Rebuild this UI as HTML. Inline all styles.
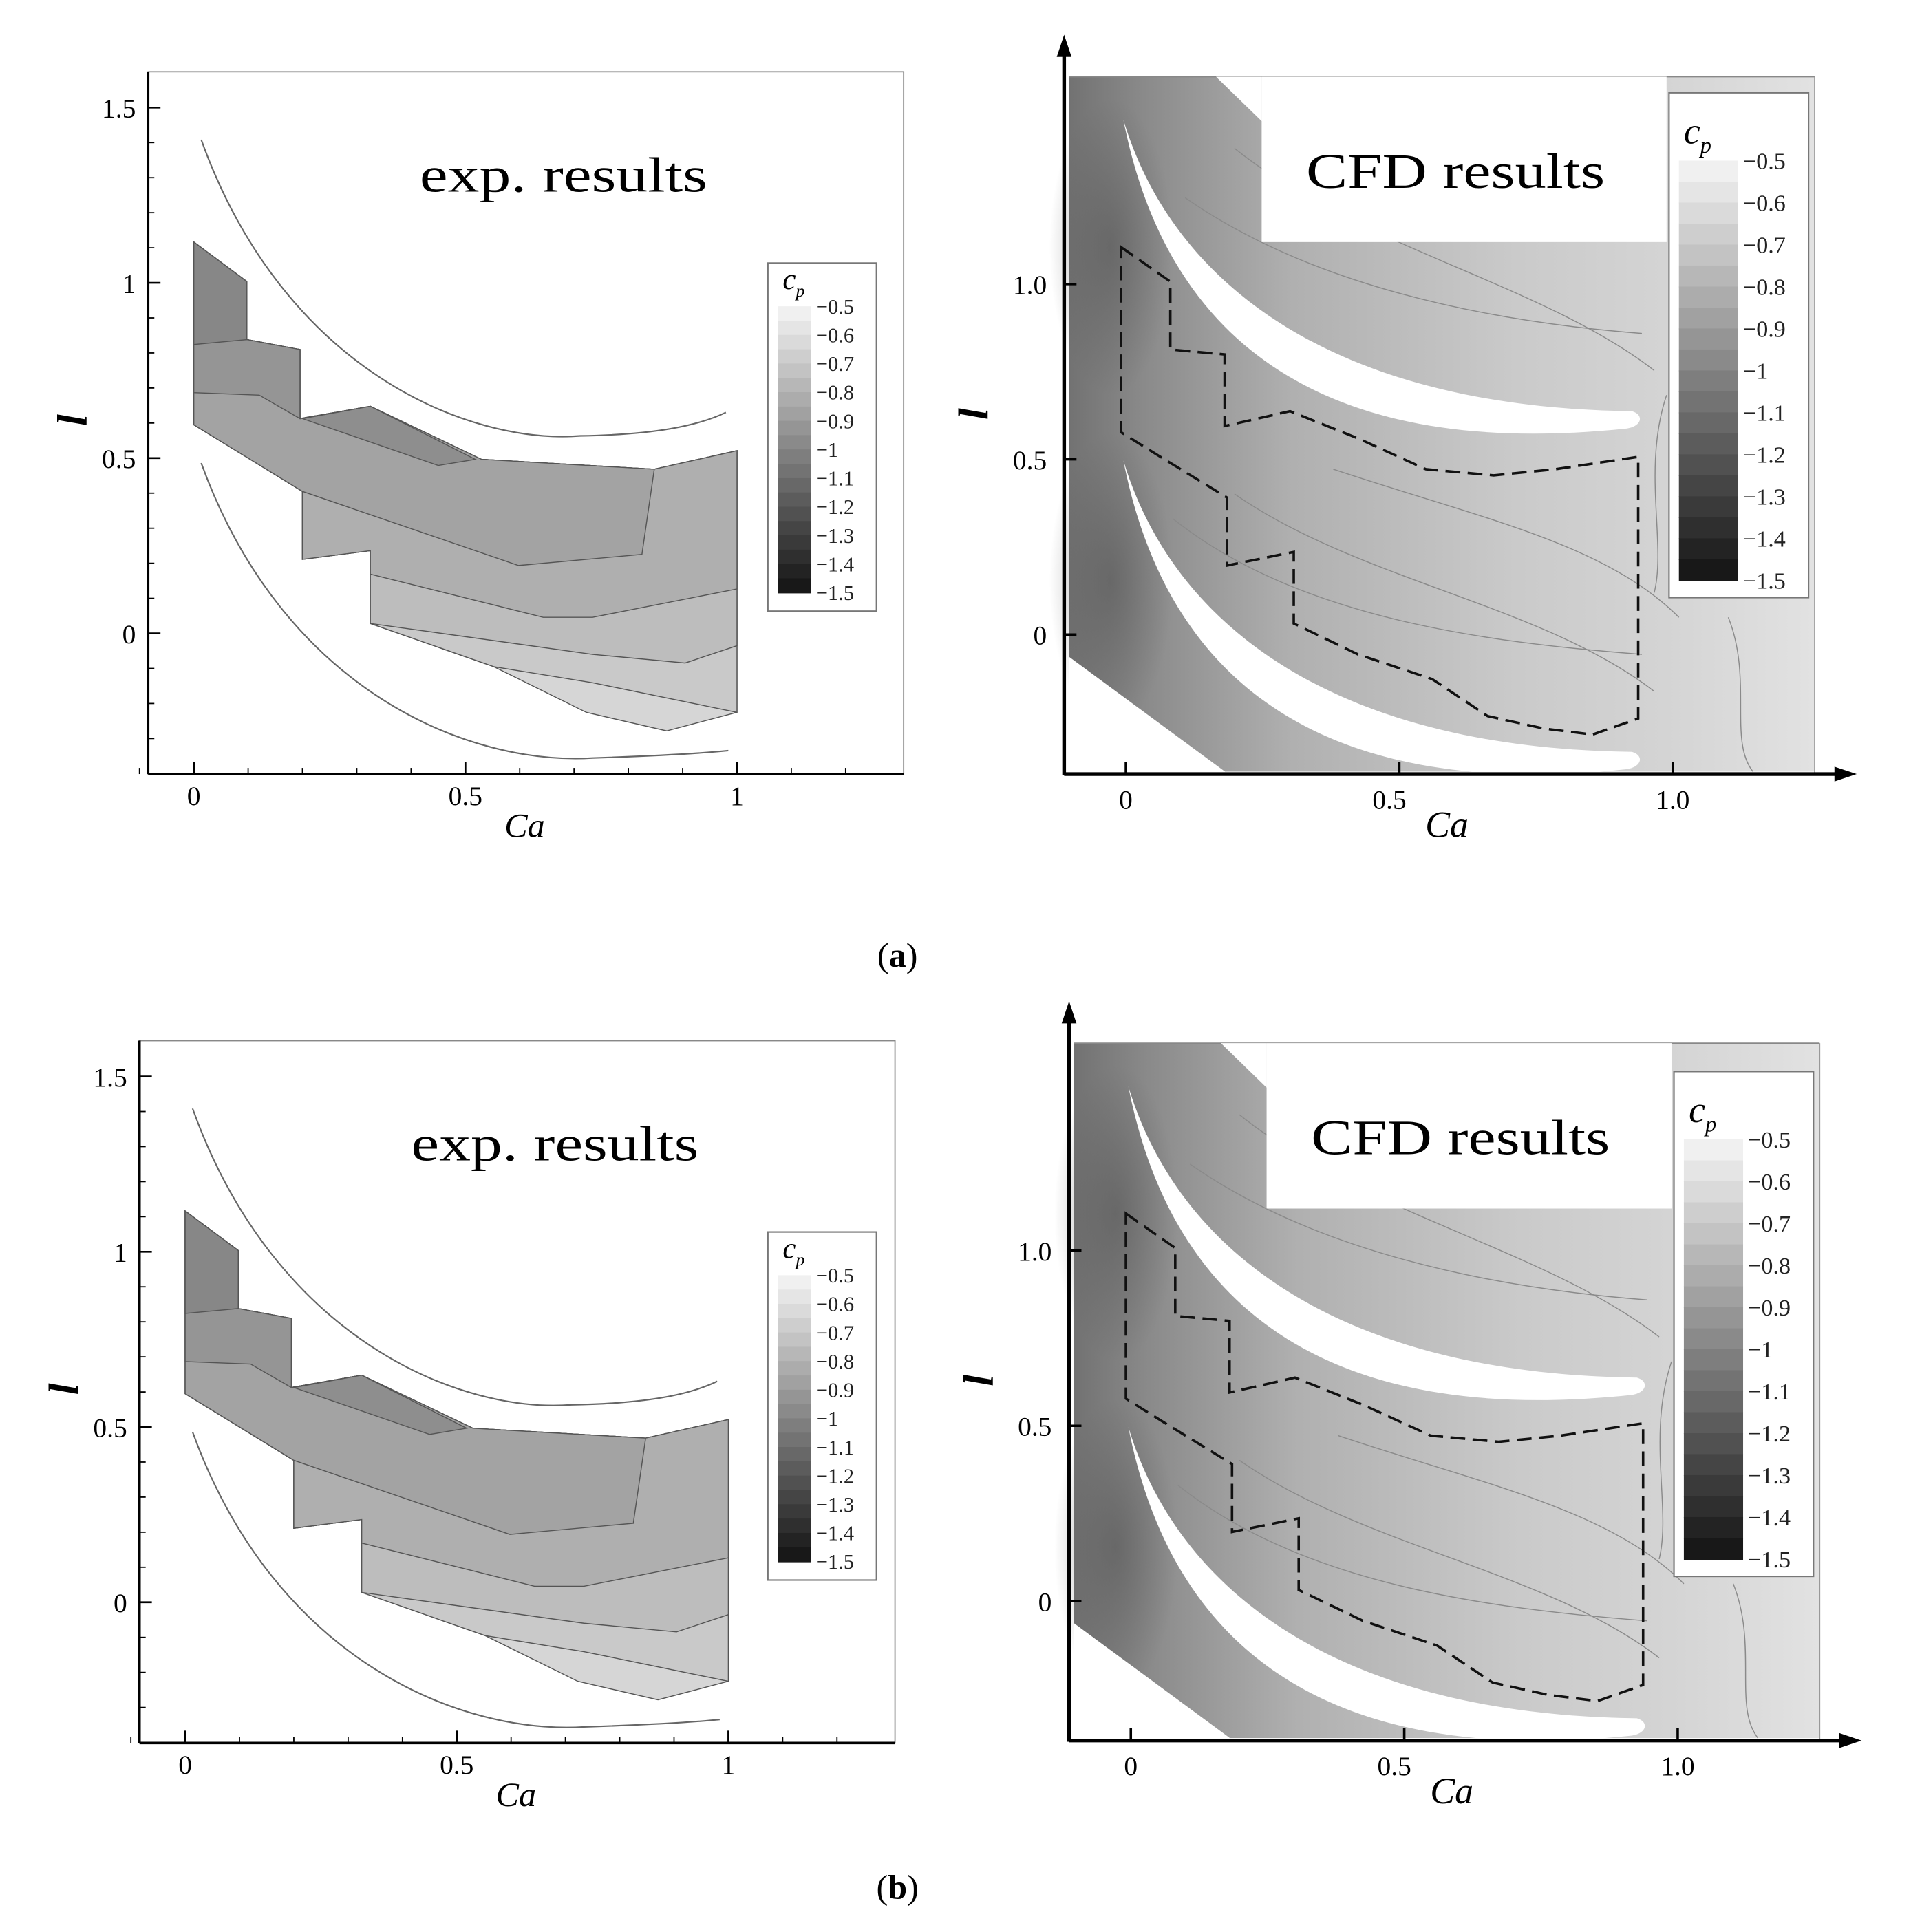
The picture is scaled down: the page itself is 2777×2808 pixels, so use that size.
<!DOCTYPE html>
<html><head><meta charset="utf-8"><style>
html,body{margin:0;padding:0;background:#fff}
svg{display:block}
</style></head><body>
<svg id="fig" width="2777" height="2808" viewBox="0 0 1548 1565" xmlns="http://www.w3.org/2000/svg" font-family="Liberation Serif, serif">
<defs>
<linearGradient id="cfdgrad" x1="0" y1="0" x2="1" y2="0">
<stop offset="0" stop-color="#727272"/><stop offset="0.1" stop-color="#8a8a8a"/><stop offset="0.3" stop-color="#b0b0b0"/><stop offset="0.6" stop-color="#cacaca"/><stop offset="0.8" stop-color="#d4d4d4"/><stop offset="1" stop-color="#e2e2e2"/>
</linearGradient>
<radialGradient id="dark" cx="0.5" cy="0.5" r="0.5">
<stop offset="0" stop-color="#555" stop-opacity="0.55"/><stop offset="1" stop-color="#555" stop-opacity="0"/>
</radialGradient>
</defs>
<g id="root"></g>
</svg>
<script>
const levels = [-0.5,-0.6,-0.7,-0.8,-0.9,-1,-1.1,-1.2,-1.3,-1.4,-1.5];
const expYTicks = [0,0.5,1,1.5];
const expXTicks = [0,0.5,1];
const cfdYTicks = [0,0.5,1.0];
const cfdXTicks = [0,0.5,1.0];
const NS='http://www.w3.org/2000/svg';
const root=document.getElementById('root');
function mk(tag,attrs,parent){const e=document.createElementNS(NS,tag);for(const k in attrs)e.setAttribute(k,attrs[k]);(parent||root).appendChild(e);return e;}
function txt(x,y,s,size,parent,extra){const t=mk('text',Object.assign({x:x,y:y,'font-size':size,'font-family':'Liberation Serif, serif'},extra||{}),parent);t.textContent=s;return t;}
function shade(v){const f=(v+1.5)/1.0;const c=Math.round(18+f*228);return `rgb(${c},${c},${c})`;}
function pts(a,dx,dy){return a.map(p=>(p[0]+dx)+','+(p[1]+dy)).join(' ');}

function legend(g,x,y,w,h,barX,barY,barW,barH,fs,titleSize){
  const box=mk('rect',{x:x,y:y,width:w,height:h,fill:'#fff',stroke:'#777','stroke-width':1.2},g);
  
  const tt=txt(barX+4,barY-14,'c',titleSize,g,{'font-style':'italic'});
  const sub=mk('tspan',{'font-size':titleSize*0.6,dy:titleSize*0.25},tt);sub.textContent='p';
  
  const n=20;
  for(let i=0;i<n;i++){
    const v=-0.5-(i+0.5)*0.05;
    const r=mk('rect',{x:barX,y:barY+i*barH/n,width:barW,height:barH/n+0.6,fill:shade(v)},g);
    
  }
  levels.forEach((v,i)=>{
    const yy=barY+i*barH/(levels.length-1);
    const t=txt(barX+barW+4,yy+fs*0.35,'\u2212'+String(Math.abs(v)),fs,g,{fill:'#222'});
    
  });
}

function expPanel(dx,dy){
  const g=mk('g',{});
  const x0=157+dx, xs=440, y0=513+dy, ys=284;
  const X=v=>x0+v*xs, Y=v=>y0-v*ys;
  const frame=mk('rect',{x:120+dx,y:58+dy,width:612,height:569,fill:'none',stroke:'#888','stroke-width':1},g);
  
  mk('line',{x1:120+dx,y1:58+dy,x2:120+dx,y2:627+dy,stroke:'#000','stroke-width':2},g);
  mk('line',{x1:120+dx,y1:627+dy,x2:732+dx,y2:627+dy,stroke:'#000','stroke-width':2},g);
  const T=[[157,196],[200,228],[200,275],[243,283],[243,339],[300,329],[390,372],[530,380],[597,365]];
  const LE=[[300,505],[300,446],[245,453],[245,398],[157,344]];
  const st={stroke:'#555','stroke-width':0.8};
  const full=T.concat([[597,577],[540,592],[475,577],[400,540]],LE);
  const r=mk('polygon',Object.assign({points:pts(full,dx,dy),fill:'#d6d6d6'},st),g);
  
  const bands=[
    [T.concat([[597,577],[480,553],[400,540]],LE),'#c9c9c9'],
    [T.concat([[597,523],[555,537],[480,530]],LE),'#bdbdbd'],
    [T.concat([[597,477],[480,500],[440,500],[300,465],[300,446],[245,453],[245,398],[157,344]]),'#afafaf'],
    [T.slice(0,8).concat([[520,449],[420,458],[245,398],[157,344]]),'#a3a3a3'],
    [[[157,196],[200,228],[200,275],[243,283],[243,339],[210,320],[157,318]],'#959595'],
    [[[245,339],[300,329],[385,372],[355,377]],'#8e8e8e'],
    [[[157,196],[200,228],[200,275],[157,279]],'#878787']
  ];
  bands.forEach(b=>{const p=mk('polygon',Object.assign({points:pts(b[0],dx,dy),fill:b[1]},st),g);});
  const c1=mk('path',{d:`M${163+dx},${113+dy} C${230+dx},${300+dy} ${380+dx},${360+dy} ${470+dx},${353+dy} C${530+dx},${352+dy} ${565+dx},${345+dy} ${588+dx},${334+dy}`,fill:'none',stroke:'#666','stroke-width':1.2},g);
  
  const c2=mk('path',{d:`M${163+dx},${375+dy} C${230+dx},${560+dy} ${380+dx},${620+dy} ${480+dx},${614+dy} C${540+dx},${612+dy} ${570+dx},${610+dy} ${590+dx},${608+dy}`,fill:'none',stroke:'#666','stroke-width':1.2},g);
  
  expYTicks.forEach(v=>{mk('line',{x1:120+dx,y1:Y(v),x2:130+dx,y2:Y(v),stroke:'#000','stroke-width':1.5},g);
    const t=txt(110+dx,Y(v)+8,String(v),22,g,{'text-anchor':'end'});});
  for(let v=-0.3;v<1.6;v+=0.1){mk('line',{x1:120+dx,y1:Y(v),x2:125+dx,y2:Y(v),stroke:'#000'},g);}
  expXTicks.forEach(v=>{mk('line',{x1:X(v),y1:627+dy,x2:X(v),y2:617+dy,stroke:'#000','stroke-width':1.5},g);
    const t=txt(X(v),652+dy,String(v),22,g,{'text-anchor':'middle'});});
  for(let v=-0.1;v<1.3;v+=0.1){mk('line',{x1:X(v),y1:627+dy,x2:X(v),y2:622+dy,stroke:'#000'},g);}
  const xl=txt(425+dx,678+dy,'Ca',28,g,{'font-style':'italic','text-anchor':'middle'});
  const yl=txt(0,0,'l',34,g,{'font-style':'italic','font-weight':'bold',transform:`translate(${70+dx},${345+dy}) rotate(-90)`});
  const tl=txt(340+dx,155+dy,'exp. results',40,g,{textLength:233,lengthAdjust:'spacingAndGlyphs'});
}

function cfdPanel(dx,dy,ldx,ldy){
  const g=mk('g',{});
  const x0=912+dx, xs=443, y0=514+dy, ys=284;
  const X=v=>x0+v*xs, Y=v=>y0-v*ys;
  const bg=mk('rect',{x:866+dx,y:62+dy,width:604,height:563,fill:'url(#cfdgrad)'},g);
  
  mk('line',{x1:866+dx,y1:62+dy,x2:1470+dx,y2:62+dy,stroke:'#888'},g);
  mk('line',{x1:1470+dx,y1:62+dy,x2:1470+dx,y2:627+dy,stroke:'#999'},g);
  [[900,200],[900,470]].forEach(p=>{mk('ellipse',{cx:p[0]+dx,cy:p[1]+dy,rx:50,ry:120,fill:'url(#dark)'},g);});
  mk('polygon',{points:pts([[985,62],[1022,62],[1022,98]],dx,dy),fill:'#fff'},g);
  mk('polygon',{points:pts([[866,532],[995,627],[866,627]],dx,dy),fill:'#fff'},g);
  // contour lines
  const cl=[[[960,160],[1060,230],[1200,260],[1330,270]],[[1000,120],[1100,200],[1250,230],[1340,300]],[[950,420],[1050,500],[1200,520],[1330,530]],[[1000,400],[1100,470],[1250,490],[1340,560]],[[1080,380],[1200,420],[1300,440],[1360,500]],[[1350,320],[1330,380],[1350,440],[1340,480]],[[1400,500],[1420,550],[1400,600],[1420,625]]];
  cl.forEach(c=>{const p=mk('path',{d:`M${c[0][0]+dx},${c[0][1]+dy} C${c[1][0]+dx},${c[1][1]+dy} ${c[2][0]+dx},${c[2][1]+dy} ${c[3][0]+dx},${c[3][1]+dy}`,fill:'none',stroke:'#8a8a8a','stroke-width':0.8},g);});
  [0,276].forEach((o,i)=>{const b=mk('path',{d:`M${910+dx},${97+o+dy} C${950+dx},${230+o+dy} ${1080+dx},${330+o+dy} ${1322+dx},${333+o+dy} C${1332+dx},${336+o+dy} ${1330+dx},${345+o+dy} ${1318+dx},${347+o+dy} C${1100+dx},${370+o+dy} ${950+dx},${300+o+dy} ${910+dx},${97+o+dy} Z`,fill:'#fff'},g);
    });
  mk('rect',{x:1022+dx,y:62+dy,width:328,height:134,fill:'#fff'},g);
  const tl=txt(1058+dx,152+dy,'CFD results',40,g,{textLength:242,lengthAdjust:'spacingAndGlyphs'});
  const dp=[[908,200],[948,228],[948,283],[992,287],[992,345],[1045,333],[1100,355],[1155,380],[1210,385],[1260,380],[1327,370],[1327,582],[1290,595],[1250,590],[1205,580],[1160,550],[1100,530],[1048,505],[1048,447],[994,458],[994,403],[940,370],[908,350]];
  const d=mk('polygon',{points:pts(dp,dx,dy),fill:'none',stroke:'#111','stroke-width':2,'stroke-dasharray':'12,6'},g);
  
  mk('line',{x1:862+dx,y1:40+dy,x2:862+dx,y2:628+dy,stroke:'#000','stroke-width':3},g);
  mk('polygon',{points:`${862+dx},${28+dy} ${856+dx},${46+dy} ${868+dx},${46+dy}`,fill:'#000'},g);
  mk('line',{x1:862+dx,y1:627+dy,x2:1490+dx,y2:627+dy,stroke:'#000','stroke-width':3},g);
  mk('polygon',{points:`${1504+dx},${627+dy} ${1486+dx},${621+dy} ${1486+dx},${633+dy}`,fill:'#000'},g);
  cfdYTicks.forEach(v=>{mk('line',{x1:862+dx,y1:Y(v),x2:872+dx,y2:Y(v),stroke:'#000','stroke-width':2},g);
    const t=txt(848+dx,Y(v)+8,v===0?'0':v.toFixed(1),22,g,{'text-anchor':'end'});});
  cfdXTicks.forEach(v=>{mk('line',{x1:X(v),y1:627+dy,x2:X(v),y2:617+dy,stroke:'#000','stroke-width':2},g);
    const t=txt(X(v)+(v===0.5?-8:0),655+dy,v===0?'0':v.toFixed(1),22,g,{'text-anchor':'middle'});});
  const xl=txt(1172+dx,678+dy,'Ca',30,g,{'font-style':'italic','text-anchor':'middle'});
  const yl=txt(0,0,'l',34,g,{'font-style':'italic','font-weight':'bold',transform:`translate(${800+dx},${340+dy}) rotate(-90)`});
  legend(g,1352+dx+ldx,75+dy+ldy,113,409,1360+dx+ldx,130+dy+ldy,48,340,19,30);
}

expPanel(0,0);
legend(root,622,213,88,282,630,248,27,232,17,24);
cfdPanel(0,0,0,0);
expPanel(-7,785);
legend(root,622,998,88,282,630,1033,27,232,17,24);
cfdPanel(4,783,0,10);
const la=txt(727,783,'',28,root,{'text-anchor':'middle'});la.innerHTML='(<tspan font-weight="bold">a</tspan>)';

const lb=txt(727,1538,'',28,root,{'text-anchor':'middle'});lb.innerHTML='(<tspan font-weight="bold">b</tspan>)';

</script>
</body></html>
